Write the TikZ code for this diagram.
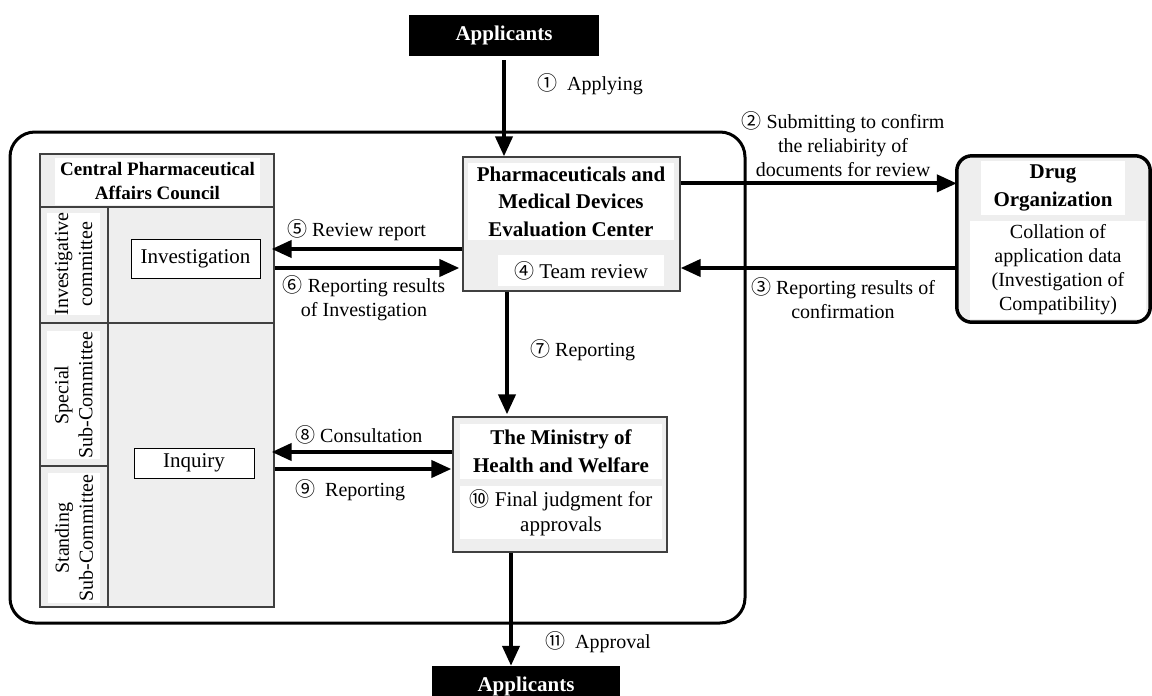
\documentclass[tikz,border=0pt]{standalone}
\usepackage{fontspec}
\setmainfont{Liberation Serif}
\newfontfamily\cnumfont{Noto Sans CJK JP}
\newcommand{\cn}[1]{{\cnumfont\fontsize{20}{20}\selectfont #1}}
\usetikzlibrary{arrows.meta,calc}
\definecolor{panel}{HTML}{EEEEEE}
\definecolor{edge}{HTML}{404040}
\begin{document}
\begin{tikzpicture}[x=1pt,y=-1pt,
  lbl/.style={font=\fontsize{20}{24}\selectfont, align=center, inner sep=0pt},
  arr/.style={line width=4pt, -{Triangle[length=20pt,width=17pt]}},
  blackbox/.style={fill=black, text=white, font=\bfseries\fontsize{21}{24}\selectfont, inner sep=0pt},
  gbox/.style={fill=panel, draw=edge, line width=1.3pt, inner sep=0pt},
  wbox/.style={fill=white, inner sep=0pt, align=center},
  framebox/.style={fill=white, draw=black, line width=1pt, inner sep=0pt, font=\fontsize{21}{24}\selectfont},
  title/.style={font=\bfseries\fontsize{21}{27.5}\selectfont},
  body/.style={font=\fontsize{20}{24}\selectfont},
  vlab/.style={rotate=90, font=\fontsize{20}{24}\selectfont, align=center, inner sep=0pt}
]
\useasboundingbox (0,0) rectangle (1152,696);

% Applicants (top)
\node[blackbox, minimum width=190pt, minimum height=41pt] (app1) at (504,35.5) {Applicants};

% Outer frame
\node[draw=black, line width=3pt, rounded corners=25pt, minimum width=735pt, minimum height=491pt, inner sep=0pt] (outer) at (377.5,377.5) {};

% Central Pharmaceutical Affairs Council table
\node[gbox, minimum width=234pt, minimum height=453pt] (cpac) at (157,380.5) {};
\draw[edge, line width=1.3pt] (40,207) -- (274,207);
\draw[edge, line width=1.3pt] (108,207) -- (108,607);
\draw[edge, line width=1.3pt] (40,323) -- (274,323);
\draw[edge, line width=1.3pt] (40,466) -- (108,466);
\node[wbox, minimum width=205pt, minimum height=47pt, font=\bfseries\fontsize{19}{24}\selectfont] (cpachead) at (157.5,181.5) {Central Pharmaceutical\\Affairs Council};
\node[fill=white, minimum width=53pt, minimum height=102pt, inner sep=0pt] (invcbg) at (73.5,264) {};
\node[vlab] (invc) at (invcbg) {Investigative\\committee};
\node[fill=white, minimum width=53pt, minimum height=128pt, inner sep=0pt] (specbg) at (73.5,395) {};
\node[vlab] (spec) at (specbg) {Special\\Sub-Committee};
\node[fill=white, minimum width=52pt, minimum height=130pt, inner sep=0pt] (standbg) at (74,538) {};
\node[vlab] (stand) at (standbg) {Standing\\Sub-Committee};

\node[framebox, minimum width=129pt, minimum height=39pt] (inv) at (195.5,258.5) {Investigation};
\node[framebox, minimum width=120pt, minimum height=30pt] (inq) at (194,463) {Inquiry};

% PMDEC
\node[gbox, minimum width=217pt, minimum height=134pt] (pm) at (571.5,224) {};
\node[wbox, title, minimum width=206pt, minimum height=77pt] (pmtitle) at (571,201.5) {Pharmaceuticals and\\Medical Devices\\Evaluation Center};
\node[wbox, minimum width=166pt, minimum height=31pt, font=\fontsize{21}{24}\selectfont] (team) at (581,270.5) {\cn{④} Team review};

% Drug Organization
\node[fill=panel, rounded corners=15pt, minimum width=193pt, minimum height=166pt, inner sep=0pt] (drug) at (1053.5,239) {};
\node[wbox, title, minimum width=144pt, minimum height=54pt] (drugtitle) at (1053,188) {Drug\\Organization};
\node[wbox, body, minimum width=176pt, minimum height=98pt] (drugbody) at (1058,270) {Collation of\\application data\\(Investigation of\\Compatibility)};
\draw[line width=3.5pt, rounded corners=15pt] (drug.south west) rectangle (drug.north east);

% Ministry
\node[gbox, minimum width=214pt, minimum height=135pt] (mh) at (560,484.5) {};
\node[wbox, title, minimum width=202pt, minimum height=55pt] (mhtitle) at (561,451.5) {The Ministry of\\Health and Welfare};
\node[wbox, body, font=\fontsize{21}{25}\selectfont, minimum width=202pt, minimum height=53pt] (mhbody) at (561,512.5) {\cn{⑩} Final judgment for\\approvals};

% Applicants (bottom)
\node[blackbox, minimum width=188pt, minimum height=40pt] (app2) at (526,686) {Applicants};

% Connector anchor points
\coordinate (p2) at ([yshift=-27pt]pm.north east);
\coordinate (p3) at ([yshift=-44pt]pm.east);
\coordinate (p5) at ([yshift=-25pt]pm.west);
\coordinate (p6) at ([yshift=-44pt]pm.west);
\coordinate (p7) at ([xshift=-64.5pt]pm.south);
\coordinate (p8) at ([yshift=32.5pt]mh.west);
\coordinate (p9) at ([yshift=15.5pt]mh.west);
\coordinate (p11) at ([xshift=-49pt]mh.south);

% Connectors
\draw[arr] ([yshift=-4pt]app1.south) -- (app1.south |- pm.north);
\draw[arr] (p2) -- (p2 -| drug.west);
\draw[arr] (p3 -| drug.west) -- (p3);
\draw[arr, shorten >=-3pt] (p5) -- (p5 -| cpac.east);
\draw[arr, shorten >=3pt] (p6 -| cpac.east) -- (p6);
\draw[arr, shorten >=2pt] (p7) -- (p7 |- mh.north);
\draw[arr, shorten >=-3pt] (p8) -- (p8 -| cpac.east);
\draw[arr, shorten >=1pt] (p9 -| cpac.east) -- (p9);
\draw[arr] (p11) -- (p11 |- app2.north);

% Labels
\node[lbl, anchor=west] (l1) at (537,84) {\cn{①}\ \ Applying};
\node[lbl] (l2) at (843,144) {\cn{②} Submitting to confirm\\the reliabirity of\\documents for review};
\node[lbl] (l3) at (843,298) {\cn{③} Reporting results of\\confirmation};
\node[lbl, anchor=west] (l5) at (287,230) {\cn{⑤} Review report};
\node[lbl] (l6) at (364,298) {\cn{⑥} Reporting results\\of Investigation};
\node[lbl, anchor=west] (l7) at (530,350) {\cn{⑦} Reporting};
\node[lbl, anchor=west] (l8) at (295,435) {\cn{⑧} Consultation};
\node[lbl, anchor=west] (l9) at (295,490) {\cn{⑨}\ \ Reporting};
\node[lbl, anchor=west] (l11) at (545,642) {\cn{⑪}\ \ Approval};
\end{tikzpicture}
\end{document}
